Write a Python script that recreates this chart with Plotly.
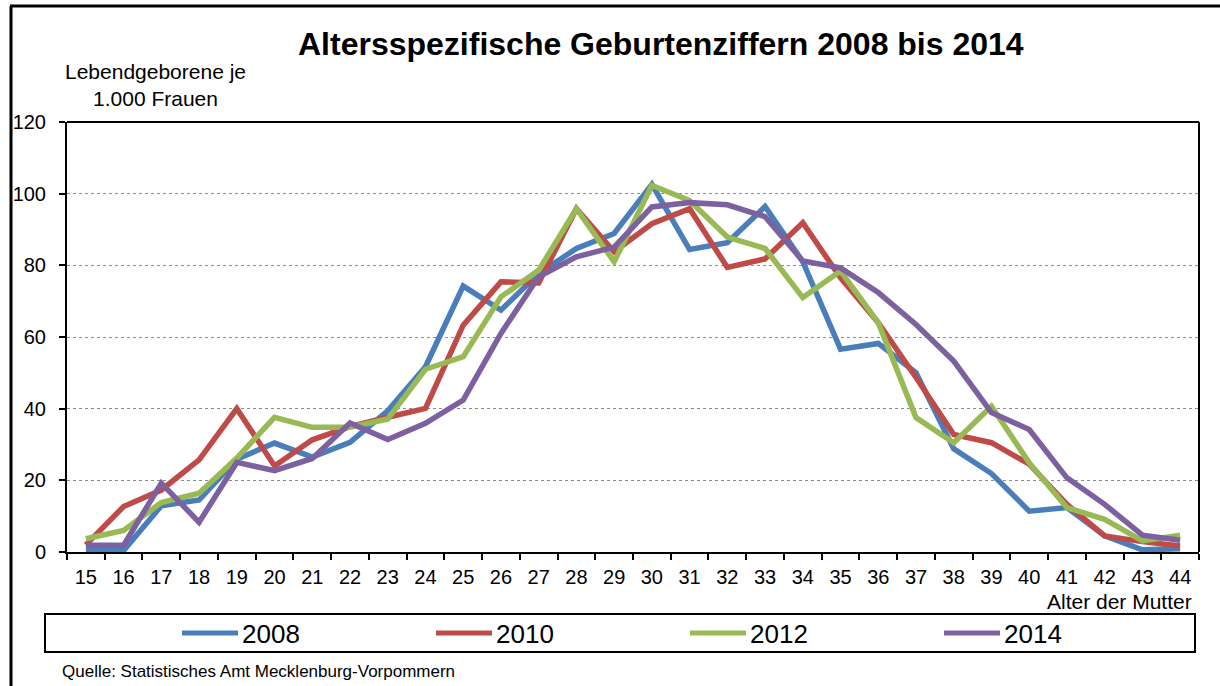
import plotly.graph_objects as go

ages = [str(a) for a in range(15, 45)]

y2008 = [0.4, 0.4, 12.9, 14.5, 25.9, 30.4, 26.5, 30.6, 39.4, 51.7, 74.2, 67.5, 77.7, 84.7, 88.9,
         102.6, 84.4, 86.3, 96.4, 81.0, 56.6, 58.2, 50.0, 28.8, 21.9, 11.4, 12.4, 4.5, 0.6, 0.9]
y2010 = [2.0, 12.7, 17.3, 25.7, 40.0, 24.0, 31.3, 35.0, 37.6, 40.1, 63.3, 75.4, 75.1, 95.8, 83.8,
         91.6, 95.8, 79.4, 81.8, 91.9, 76.5, 64.0, 48.7, 32.8, 30.5, 24.5, 13.3, 4.5, 2.9, 1.7]
y2012 = [3.7, 6.0, 13.8, 16.4, 26.2, 37.6, 34.8, 34.8, 37.1, 51.0, 54.5, 71.2, 78.6, 95.8, 81.0,
         102.3, 98.1, 87.9, 84.7, 71.0, 78.4, 64.0, 37.5, 30.5, 40.7, 24.9, 12.4, 9.1, 3.1, 4.7]
y2014 = [1.9, 1.9, 19.2, 8.3, 25.0, 22.7, 26.1, 36.0, 31.4, 35.9, 42.4, 61.0, 76.8, 82.4, 85.1,
         96.3, 97.5, 96.9, 93.6, 81.2, 79.3, 72.4, 63.5, 53.3, 38.9, 34.2, 20.7, 13.3, 4.7, 3.3]

series_names = ["2008", "2010", "2012", "2014"]
series_values = [y2008, y2010, y2012, y2014]
series_colors = ["#4A7EBB", "#BE4B48", "#98B954", "#7D60A0"]

y_ticks = [0, 20, 40, 60, 80, 100, 120]

title_text = "<b>Altersspezifische Geburtenziffern 2008 bis 2014</b>"
ytitle_text = "Lebendgeborene je<br>1.000 Frauen"
xtitle_text = "Alter der Mutter"
source_text = "Quelle: Statistisches Amt Mecklenburg-Vorpommern"

W, H = 1220, 686
L, R, T, B = 67, 1199, 122, 552
FONT = "Liberation Sans, Arial, sans-serif"


def px(x):
    return (x - L) / (R - L)


def py(y):
    return (B - y) / (B - T)


fig = go.Figure()
for name, vals, col in zip(series_names, series_values, series_colors):
    fig.add_trace(go.Scatter(x=ages, y=vals, mode="lines", name=name,
                             line=dict(color=col, width=5.5), showlegend=False))

shapes = []
annotations = []

# outer frame
shapes.append(dict(type="line", xref="paper", yref="paper", x0=px(10), x1=px(1222), y0=py(6), y1=py(6),
                   line=dict(color="black", width=3)))
shapes.append(dict(type="line", xref="paper", yref="paper", x0=px(11), x1=px(11), y0=py(6), y1=py(690),
                   line=dict(color="black", width=3)))
# plot area top and right border
shapes.append(dict(type="line", xref="paper", yref="paper", x0=0, x1=1, y0=1, y1=1,
                   line=dict(color="black", width=2)))
shapes.append(dict(type="line", xref="paper", yref="paper", x0=1, x1=1, y0=0, y1=1,
                   line=dict(color="black", width=2)))
# legend box
shapes.append(dict(type="rect", xref="paper", yref="paper", x0=px(45), x1=px(1195), y0=py(614), y1=py(652),
                   line=dict(color="black", width=2), fillcolor="rgba(0,0,0,0)"))

legend_starts = [182, 436, 690, 944]
for name, col, xs in zip(series_names, series_colors, legend_starts):
    shapes.append(dict(type="line", xref="paper", yref="paper", x0=px(xs), x1=px(xs + 56),
                       y0=py(633), y1=py(633), line=dict(color=col, width=5)))
    annotations.append(dict(text=name, xref="paper", yref="paper", x=px(xs + 58), y=py(634),
                            xanchor="left", yanchor="middle", showarrow=False,
                            font=dict(size=26, color="black", family=FONT)))

annotations.append(dict(text=title_text, xref="paper", yref="paper", x=px(661), y=py(44),
                        xanchor="center", yanchor="middle", showarrow=False,
                        font=dict(size=32, color="black", family=FONT)))
annotations.append(dict(text=ytitle_text, xref="paper", yref="paper", x=px(155), y=py(85),
                        xanchor="center", yanchor="middle", showarrow=False,
                        font=dict(size=21, color="black", family=FONT)))
annotations.append(dict(text=xtitle_text, xref="paper", yref="paper", x=px(1194), y=py(601),
                        xanchor="right", yanchor="middle", showarrow=False,
                        font=dict(size=21, color="black", family=FONT)))
annotations.append(dict(text=source_text, xref="paper", yref="paper", x=px(60), y=py(671),
                        xanchor="left", yanchor="middle", showarrow=False,
                        font=dict(size=17, color="black", family=FONT)))

fig.update_layout(
    width=W, height=H,
    margin=dict(l=L, r=W - R, t=T, b=H - B),
    paper_bgcolor="white", plot_bgcolor="white",
    font=dict(family=FONT, color="black", size=20),
    shapes=shapes, annotations=annotations,
    showlegend=False,
)
fig.update_xaxes(type="category", tickson="boundaries", ticks="outside", ticklen=6, tickwidth=2,
                 tickcolor="black", showline=True, linecolor="black", linewidth=2,
                 showgrid=False, zeroline=False, tickfont=dict(size=20),
                 range=[-0.5, 29.5], ticklabelstandoff=6)
fig.update_yaxes(range=[0, 120], tickvals=y_ticks, ticks="outside", ticklen=6, tickwidth=2,
                 tickcolor="black", showline=True, linecolor="black", linewidth=2,
                 showgrid=True, gridcolor="#8c8c8c", griddash="dot", gridwidth=1,
                 zeroline=False, tickfont=dict(size=20), ticklabelstandoff=9)

fig.write_html("out.html", config={"displayModeBar": False},
               post_script="document.body.style.margin='0';document.body.style.overflow='hidden';")
